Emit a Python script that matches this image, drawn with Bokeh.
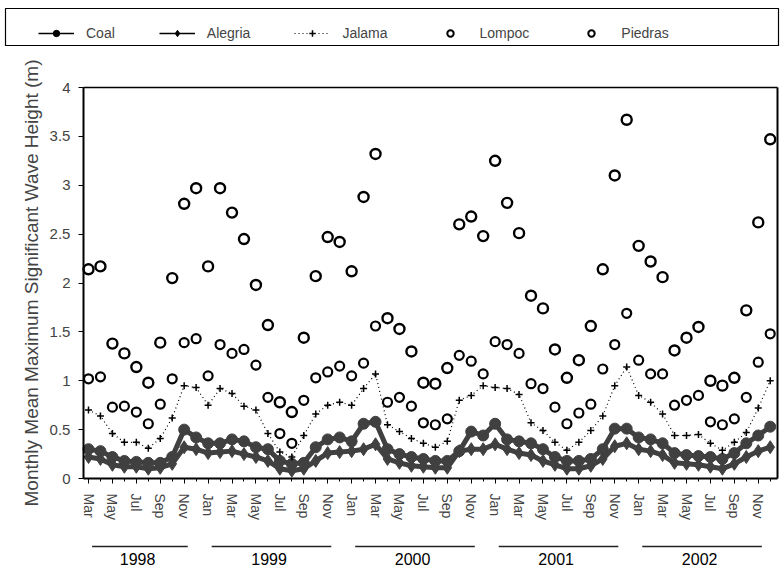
from bokeh.plotting import figure
from bokeh.models import (ColumnDataSource, Legend, LegendItem, FixedTicker, Range1d,
                          LabelSet, Arrow, BoxAnnotation, LinearAxis)
from bokeh.core.properties import value
from bokeh.embed import file_html
from bokeh.resources import INLINE

# ---------------- data ----------------
month_labels = ["Mar", "Apr", "May", "Jun", "Jul", "Aug", "Sep", "Oct", "Nov", "Dec",
                "Jan", "Feb", "Mar", "Apr", "May", "Jun", "Jul", "Aug", "Sep", "Oct", "Nov", "Dec",
                "Jan", "Feb", "Mar", "Apr", "May", "Jun", "Jul", "Aug", "Sep", "Oct", "Nov", "Dec",
                "Jan", "Feb", "Mar", "Apr", "May", "Jun", "Jul", "Aug", "Sep", "Oct", "Nov", "Dec",
                "Jan", "Feb", "Mar", "Apr", "May", "Jun", "Jul", "Aug", "Sep", "Oct", "Nov", "Dec"]
month_index = list(range(len(month_labels)))
labelled_months = month_index[::2]

year_labels = ["1998", "1999", "2000", "2001", "2002"]
year_first_month = [0, 10, 22, 34, 46]
year_last_month = [9, 21, 33, 45, 57]

coal = [0.30, 0.28, 0.22, 0.18, 0.17, 0.16, 0.16, 0.22, 0.50, 0.42,
        0.36, 0.36, 0.40, 0.38, 0.32, 0.30, 0.18, 0.15, 0.16, 0.32, 0.40, 0.42,
        0.38, 0.56, 0.58, 0.30, 0.25, 0.22, 0.20, 0.18, 0.18, 0.28, 0.48, 0.44,
        0.56, 0.40, 0.38, 0.36, 0.30, 0.22, 0.18, 0.18, 0.20, 0.30, 0.51, 0.51,
        0.42, 0.40, 0.36, 0.26, 0.24, 0.23, 0.22, 0.20, 0.26, 0.36, 0.44, 0.53]
alegria = [0.22, 0.20, 0.14, 0.12, 0.12, 0.10, 0.11, 0.15, 0.32, 0.30,
           0.26, 0.27, 0.28, 0.25, 0.22, 0.18, 0.10, 0.08, 0.10, 0.18, 0.26, 0.27,
           0.28, 0.30, 0.35, 0.20, 0.16, 0.13, 0.12, 0.11, 0.11, 0.28, 0.30, 0.30,
           0.35, 0.30, 0.26, 0.24, 0.18, 0.14, 0.10, 0.10, 0.13, 0.20, 0.33, 0.36,
           0.30, 0.28, 0.24, 0.16, 0.15, 0.14, 0.12, 0.10, 0.15, 0.22, 0.28, 0.32]
jalama = [0.70, 0.64, 0.46, 0.37, 0.37, 0.31, 0.41, 0.62, 0.95, 0.93,
          0.75, 0.92, 0.87, 0.74, 0.70, 0.46, 0.27, 0.22, 0.44, 0.66, 0.75, 0.78,
          0.75, 0.92, 1.07, 0.55, 0.48, 0.41, 0.36, 0.32, 0.38, 0.80, 0.85, 0.95,
          0.93, 0.92, 0.86, 0.57, 0.49, 0.37, 0.29, 0.37, 0.49, 0.64, 0.95, 1.14,
          0.85, 0.78, 0.66, 0.44, 0.44, 0.45, 0.36, 0.29, 0.37, 0.47, 0.72, 1.00]
lompoc = [1.02, 1.04, 0.73, 0.74, 0.68, 0.56, 0.76, 1.02, 1.39, 1.43,
          1.05, 1.37, 1.28, 1.32, 1.16, 0.83, 0.46, 0.36, 0.80, 1.03, 1.09, 1.15,
          1.05, 1.18, 1.56, 0.78, 0.83, 0.74, 0.57, 0.55, 0.61, 1.26, 1.20, 1.07,
          1.40, 1.37, 1.28, 0.97, 0.92, 0.73, 0.56, 0.67, 0.76, 1.12, 1.37, 1.69,
          1.21, 1.07, 1.07, 0.75, 0.80, 0.85, 0.58, 0.55, 0.61, 0.83, 1.19, 1.48]
piedras = [2.14, 2.17, 1.38, 1.28, 1.14, 0.98, 1.39, 2.05, 2.81, 2.97,
           2.17, 2.97, 2.72, 2.45, 1.98, 1.57, 0.78, 0.68, 1.44, 2.07, 2.47, 2.42,
           2.12, 2.88, 3.32, 1.64, 1.53, 1.30, 0.98, 0.97, 1.13, 2.60, 2.68, 2.48,
           3.25, 2.82, 2.51, 1.87, 1.74, 1.32, 1.03, 1.21, 1.56, 2.14, 3.10, 3.67,
           2.38, 2.22, 2.06, 1.31, 1.44, 1.55, 1.00, 0.95, 1.03, 1.72, 2.62, 3.47]

y_ticks = [0, 0.5, 1, 1.5, 2, 2.5, 3, 3.5, 4]
y_tick_labels = ["0", "0.5", "1", "1.5", "2", "2.5", "3", "3.5", "4"]

# ---------------- layout constants (pixels) ----------------
W, H = 783, 569
X0_PX, XS = 88, 11.96      # pixel of first month, pixels per month
Y0_PX, YS = 478, 97.75     # pixel of value 0, pixels per metre
X_LO, X_HI = -0.42, 57.65  # plot-box extent in month units
Y_LO, Y_HI = 0, 4

def xd(px):
    return (px - X0_PX) / XS

def yd(py):
    return (Y0_PX - py) / YS

FONT = "Liberation Sans"
BAND = "#404040"

src = ColumnDataSource(dict(x=month_index, coal=coal, alegria=alegria, jalama=jalama,
                            lompoc=lompoc, piedras=piedras))

p = figure(width=W, height=H, x_range=Range1d(xd(0), xd(W)), y_range=Range1d(yd(H), yd(0)),
           output_backend="svg", toolbar_location=None,
           x_axis_location=None, y_axis_location=None,
           min_border_left=0, min_border_right=0, min_border_top=0, min_border_bottom=0)
p.grid.visible = False
p.outline_line_color = None

# band series (Coal / Alegria)
p.line("x", "alegria", source=src, color=BAND, line_width=5)
p.scatter("x", "alegria", source=src, marker="diamond", size=13, color=BAND)
p.line("x", "coal", source=src, color=BAND, line_width=5)
p.scatter("x", "coal", source=src, marker="circle", size=11, color=BAND)
# Jalama
jl = p.line("x", "jalama", source=src, color="black", line_width=1.2, line_dash="1 3")
js = p.scatter("x", "jalama", source=src, marker="cross", size=7, line_width=1.5, color="black")
# Lompoc / Piedras
p.scatter("x", "lompoc", source=src, marker="circle", size=9, fill_color=None,
          line_color="black", line_width=2.2)
p.scatter("x", "piedras", source=src, marker="circle", size=10, fill_color=None,
          line_color="black", line_width=2.4)

# legend-only renderers (thin black glyphs, hidden in the plot)
lc1 = p.line("x", "coal", source=src, color="black", line_width=1.5, visible=False)
lc2 = p.scatter("x", "coal", source=src, marker="circle", size=9, color="black", visible=False)
la1 = p.line("x", "alegria", source=src, color="black", line_width=1.5, visible=False)
la2 = p.scatter("x", "alegria", source=src, marker="diamond", size=12, color="black", visible=False)
ll = p.scatter("x", "lompoc", source=src, marker="circle", size=7, fill_color=None,
               line_color="black", line_width=2, visible=False)
lp = p.scatter("x", "piedras", source=src, marker="circle", size=7, fill_color=None,
               line_color="black", line_width=2, visible=False)

legend = Legend(items=[LegendItem(label="Coal", renderers=[lc1, lc2]),
                       LegendItem(label="Alegria", renderers=[la1, la2]),
                       LegendItem(label="Jalama", renderers=[jl, js]),
                       LegendItem(label="Lompoc", renderers=[ll]),
                       LegendItem(label="Piedras", renderers=[lp])],
                location=(38, H - 41), orientation="horizontal", click_policy="none",
                border_line_color=None, background_fill_alpha=0,
                glyph_width=36, glyph_height=16, label_standoff=12, spacing=44, padding=4,
                label_text_font=FONT, label_text_font_size="14px")
p.add_layout(legend)

# legend frame box
p.add_layout(BoxAnnotation(left=xd(5), right=xd(778), top=yd(8), bottom=yd(45),
                           fill_color=None, fill_alpha=0, line_color="black", line_width=1.2,
                           line_alpha=1))

# axes drawn at the plot-box edges
yax = LinearAxis(fixed_location=X_LO, bounds=(Y_LO, Y_HI), ticker=FixedTicker(ticks=y_ticks))
yax.major_label_overrides = {t: l for t, l in zip(y_ticks, y_tick_labels)}
yax.axis_label = "Monthly Mean Maximum Significant Wave Height (m)"
yax.axis_label_text_font = FONT
yax.axis_label_text_font_size = "19px"
yax.axis_label_text_font_style = "normal"
yax.axis_label_standoff = 5
yax.major_label_text_font = FONT
yax.major_label_text_font_size = "15px"
yax.major_label_standoff = 8
yax.major_tick_in = 0
yax.major_tick_out = 5
yax.minor_tick_out = 0
yax.minor_tick_in = 0
yax.axis_line_width = 2
p.add_layout(yax, "left")

xax = LinearAxis(fixed_location=Y_LO, bounds=(X_LO, X_HI),
                 ticker=FixedTicker(ticks=labelled_months, minor_ticks=month_index))
xax.major_label_overrides = {i: month_labels[i] for i in labelled_months}
xax.major_label_orientation = "vertical"
xax.major_label_text_font = FONT
xax.major_label_text_font_size = "14px"
xax.major_label_standoff = 10
xax.major_tick_in = 0
xax.major_tick_out = 5
xax.minor_tick_in = 0
xax.minor_tick_out = 3
xax.axis_line_width = 2
p.add_layout(xax, "below")

top_ax = LinearAxis(fixed_location=Y_HI, bounds=(X_LO, X_HI), ticker=FixedTicker(ticks=[]),
                    axis_line_width=1.3, major_label_text_alpha=0)
p.add_layout(top_ax, "above")
right_ax = LinearAxis(fixed_location=X_HI, bounds=(Y_LO, Y_HI), ticker=FixedTicker(ticks=[]),
                      axis_line_width=2, major_label_text_alpha=0)
p.add_layout(right_ax, "right")

# year groups below the month labels
ysrc = ColumnDataSource(dict(
    x0=[f + 0.3 for f in year_first_month],
    x1=[l - 0.7 for l in year_last_month],
    xc=[(f + l) / 2 - 0.4 for f, l in zip(year_first_month, year_last_month)],
    yl=[yd(546)] * len(year_labels),
    yt=[yd(558)] * len(year_labels),
    label=year_labels))
p.add_layout(Arrow(end=None, start=None, x_start="x0", x_end="x1", y_start="yl", y_end="yl",
                   source=ysrc, line_color="#222222", line_width=1.5))
p.add_layout(LabelSet(x="xc", y="yt", text="label", source=ysrc, text_align="center",
                      text_baseline="middle", text_font=value(FONT), text_font_size=value("16px"),
                      text_color=value("black")))

open("out.html", "w").write(file_html(p, INLINE))
